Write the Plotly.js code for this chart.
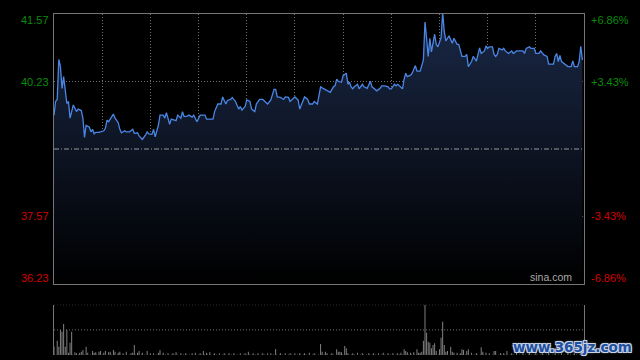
<!DOCTYPE html>
<html>
<head>
<meta charset="utf-8">
<script src="https://cdn.plot.ly/plotly-3.0.1.min.js"></script>
<style>html,body{margin:0;padding:0;background:#000;}#chart{width:640px;height:360px;}</style>
</head>
<body>
<div id="chart"></div>
<script>
// minute offsets from the open (HK session, 330 trading minutes)
const minutes = [
0,1,2,3,4,5,6,7,8,9,10,11,12,14,15,17,18,19,20,22,
23,24,25,26,28,31,32,33,34,35,37,38,40,41,42,44,45,47,49,50,
52,53,55,57,58,59,61,62,63,65,66,68,69,70,71,72,73,76,77,79,
80,81,83,84,86,87,89,91,94,95,99,100,102,104,105,107,108,110,111,113,
115,116,117,119,120,122,123,125,126,128,130,133,135,137,138,139,141,143,144,146,
147,150,152,153,154,156,158,159,161,162,164,165,166,167,169,170,172,174,175,176,
177,179,180,182,183,184,185,186,187,189,190,192,193,195,197,198,199,201,203,204,
206,208,209,210,212,213,214,217,218,219,220,222,223,225,226,228,230,231,232,233,
234,235,237,238,239,241,242,243,244,245,246,248,249,251,252,254,256,257,258,260,
261,263,264,265,266,268,269,270,271,273,274,275,276,277,279,280,281,283,285,286,
288,292,293,294,296,297,299,300,302,303,305,307,308,311,312,313,314,315,316,318,
320,322,323,324,326,327,328,329
];
const prices = [
39.57,39.84,39.88,40.67,40.53,40.10,40.33,40.07,39.80,39.84,39.51,39.64,39.77,39.64,39.69,39.66,39.51,39.13,39.37,39.33,
39.24,39.29,39.20,39.23,39.23,39.26,39.31,39.47,39.44,39.49,39.59,39.51,39.42,39.29,39.22,39.26,39.24,39.24,39.29,39.21,
39.22,39.16,39.09,39.18,39.24,39.20,39.19,39.29,39.14,39.37,39.57,39.57,39.51,39.62,39.47,39.39,39.49,39.46,39.57,39.51,
39.64,39.54,39.55,39.57,39.53,39.57,39.44,39.57,39.57,39.49,39.49,39.64,39.79,39.79,39.93,39.79,39.86,39.88,39.92,39.84,
39.69,39.74,39.67,39.74,39.87,39.84,39.69,39.64,39.79,39.88,39.88,39.79,39.87,40.08,40.08,39.93,39.92,39.88,39.93,39.92,
39.84,39.93,39.87,39.69,39.77,39.93,39.88,39.79,39.79,39.84,39.79,40.01,40.13,40.11,40.07,40.05,40.02,40.13,40.15,40.28,
40.24,40.22,40.35,40.40,40.18,40.22,40.13,40.09,40.13,40.18,40.09,40.18,40.13,40.10,40.24,40.13,40.10,40.05,40.10,40.15,
40.15,40.13,40.09,40.09,40.18,40.15,40.18,40.09,40.28,40.40,40.33,40.36,40.40,40.55,40.44,40.44,40.66,41.41,41.09,40.73,
41.09,40.82,41.17,40.97,40.92,41.10,41.60,41.22,41.04,41.10,41.14,40.99,41.09,40.97,40.97,40.73,40.73,40.77,40.53,40.63,
40.73,40.64,40.76,40.90,40.79,40.84,40.94,40.89,40.92,40.92,40.77,40.73,40.77,40.89,40.86,40.89,40.84,40.79,40.84,40.79,
40.84,40.84,40.79,40.89,40.92,40.89,40.89,40.79,40.79,40.84,40.76,40.73,40.58,40.58,40.73,40.79,40.63,40.75,40.63,40.58,
40.53,40.53,40.64,40.53,40.53,40.63,40.93,40.66
];
// volume bars (minute, relative volume)
const volMinutes = [
0,2,3,4,5,6,7,8,9,10,11,13,14,16,17,18,20,21,24,25,
26,28,29,31,32,34,35,37,38,40,41,43,45,48,49,50,52,53,55,58,
60,62,65,66,68,71,74,76,79,82,86,88,91,93,95,97,100,103,106,109,
112,116,119,121,124,127,130,133,135,138,141,144,147,150,153,156,159,162,166,167,
169,170,173,176,177,178,179,181,182,183,186,189,192,196,199,202,205,208,211,214,
216,218,219,220,222,224,226,227,228,229,230,231,232,233,234,235,236,237,238,240,
241,242,243,244,245,247,248,249,251,253,254,255,257,258,260,263,266,267,269,271,
274,275,278,280,282,285,288,292,296,300,304,308,312,316,320,324,328
];
const volumes = [
83,143,83,250,233,310,83,250,23,123,233,27,17,23,33,50,83,23,40,23,
27,33,40,23,40,27,33,50,33,23,33,17,33,17,23,100,23,40,23,40,
17,17,23,50,23,17,17,27,17,17,17,23,17,40,23,27,17,17,17,17,
17,17,17,33,17,17,17,17,17,60,17,17,17,17,17,17,23,17,110,33,
33,17,17,57,33,33,27,90,67,17,17,23,17,17,17,17,23,17,17,17,
23,57,40,27,23,27,57,23,23,33,143,503,223,133,123,67,100,117,40,57,
173,333,100,33,40,83,33,23,23,17,57,50,40,57,23,17,77,33,23,17,
40,40,17,17,40,17,23,17,20,17,23,17,20,17,23,17,20
];
const prevClose = 38.90;
const leftTickVals = [41.57, 40.23, 37.57, 36.23];
const leftTickText = ['41.57', '40.23', '37.57', '36.23'];
const rightTickText = ['+6.86%', '+3.43%', '-3.43%', '-6.86%'];
const tickColors = ['#0a8c0a', '#0a8c0a', '#d40000', '#d40000'];
const timeGrid = [30,60,90,120,150,180,210,240,270,300];

const yMin = 36.23, yMax = 41.57;
const volMax = Math.max(...volumes);

const traces = [
  {
    x: minutes, y: prices, type: 'scatter', mode: 'lines',
    line: {color: '#4a86e4', width: 1.3},
    fill: 'tozeroy',
    fillgradient: {type: 'vertical', colorscale: [[0, '#000000'], [1, '#1a2846']], start: yMin, stop: yMax},
    xaxis: 'x', yaxis: 'y', hoverinfo: 'skip'
  },
  {
    x: volMinutes, y: volumes, type: 'bar', width: 0.6,
    marker: {color: '#858585', line: {width: 0}},
    xaxis: 'x2', yaxis: 'y2', hoverinfo: 'skip'
  }
];

const annotations = [];
leftTickVals.forEach((v, i) => {
  const shift = i === 0 ? -6 : (i === leftTickVals.length - 1 ? 6.5 : 0);
  annotations.push({
    xref: 'paper', yref: 'y', x: 0, y: v, xanchor: 'right', yanchor: 'middle',
    xshift: -3, yshift: shift, showarrow: false, text: leftTickText[i],
    font: {family: 'Liberation Sans, Arial, sans-serif', size: 11, color: tickColors[i]}
  });
  annotations.push({
    xref: 'paper', yref: 'y', x: 1, y: v, xanchor: 'left', yanchor: 'middle',
    xshift: 5, yshift: shift, showarrow: false, text: rightTickText[i],
    font: {family: 'Liberation Sans, Arial, sans-serif', size: 11, color: tickColors[i]}
  });
});
annotations.push({
  xref: 'x', yref: 'y', x: 330, y: yMin, xanchor: 'right', yanchor: 'bottom',
  xshift: -10, yshift: -1, showarrow: false, text: 'sina.com',
  font: {family: 'Liberation Sans, Arial, sans-serif', size: 10.5, color: '#a8a8a8'}
});
annotations.push({
  xref: 'paper', yref: 'paper', x: 1, y: 0, xanchor: 'right', yanchor: 'bottom',
  xshift: 50, yshift: -2, showarrow: false, text: '<b>www.365jz.com</b>',
  font: {family: 'DejaVu Sans, sans-serif', size: 13.5, color: '#1e4fa0',
         shadow: '1px 1px 0 #c8d4e8, -1px -1px 0 #c8d4e8, 1px -1px 0 #c8d4e8, -1px 1px 0 #c8d4e8, 0 0 3px #c8d4e8'}
});

const gridDot = '1px,2px';
const layout = {
  width: 640, height: 360,
  paper_bgcolor: '#000000', plot_bgcolor: '#000000',
  margin: {l: 54, r: 56, t: 14, b: 5},
  showlegend: false,
  xaxis: {
    domain: [0, 1], range: [0, 330], anchor: 'y',
    tickvals: timeGrid, showticklabels: false, ticks: '',
    showgrid: true, gridcolor: '#6e6e6e', griddash: gridDot, gridwidth: 1,
    showline: true, mirror: true, linecolor: '#757575', linewidth: 1, zeroline: false
  },
  yaxis: {
    domain: [0.2082, 1], range: [yMin, yMax], anchor: 'x',
    tickvals: [37.57, 40.23], showticklabels: false, ticks: '',
    showgrid: true, gridcolor: '#6e6e6e', griddash: gridDot, gridwidth: 1,
    showline: true, mirror: true, linecolor: '#757575', linewidth: 1, zeroline: false
  },
  xaxis2: {
    domain: [0, 1], range: [0, 330], anchor: 'y2',
    showticklabels: false, ticks: '', showgrid: false, zeroline: false, showline: false
  },
  yaxis2: {
    domain: [0, 0.1475], range: [0, volMax], anchor: 'x2',
    showticklabels: false, ticks: '', showgrid: false, zeroline: false,
    showline: true, mirror: true, linecolor: '#757575', linewidth: 1
  },
  shapes: [
    {type: 'line', xref: 'x', yref: 'y', x0: 0, x1: 330, y0: prevClose, y1: prevClose,
     line: {color: '#9a9a9a', width: 1, dash: '5px,2px,1px,2px'}},
    {type: 'line', xref: 'x2 domain', yref: 'y2', x0: 0, x1: 1, y0: volMax, y1: volMax,
     line: {color: '#6e6e6e', width: 1, dash: gridDot}},
    {type: 'line', xref: 'x2 domain', yref: 'y2', x0: 0, x1: 1, y0: volMax / 2, y1: volMax / 2,
     line: {color: '#6e6e6e', width: 1, dash: gridDot}},
    {type: 'line', xref: 'x2 domain', yref: 'y2', x0: 0, x1: 1, y0: 0, y1: 0,
     line: {color: '#5a5a5a', width: 1, dash: gridDot}}
  ],
  annotations: annotations
};

Plotly.newPlot('chart', traces, layout, {staticPlot: true, displayModeBar: false});
</script>
</body>
</html>
